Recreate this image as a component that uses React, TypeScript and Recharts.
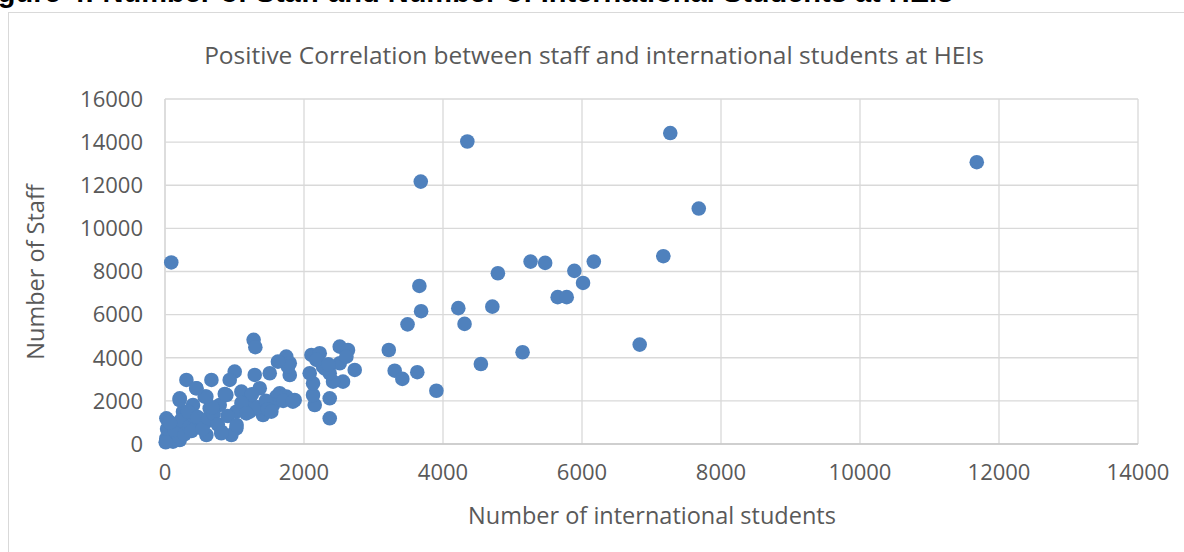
import { ScatterChart, Scatter, XAxis, YAxis, CartesianGrid } from "recharts";

// international students (x) vs number of staff (y)
const students = [
  90, 4350, 3680, 7270, 7680, 7170, 11680, 6830, 5260, 5470, 6170, 5890, 6015, 5650, 5780,
  4790, 3660, 3685, 4220, 4310, 4710, 3490, 3220, 3305, 3415, 3630, 3905, 4545, 5145,
  2730, 2514, 2633, 2561, 2418, 2370, 2370, 2154, 2130, 2130, 2082, 2370, 2107, 2226, 2274,
  2514, 2610, 2300, 2180, 2350, 1745, 1795, 1795, 1770, 1747, 1866, 1650, 1275, 1300,
  308, 668, 1003, 931, 1291, 1507, 1625, 452, 212, 571, 883, 1099, 1219, 1363, 1603,
  20, 259, 403, 643, 787, 1027, 1219, 1410, 1554, 164, 452, 596, 308, 596, 812, 1027, 955,
  20, 115, 212, 40, 80, 180, 60, 120, 150, 30, 250, 10, 100, 200, 50, 140, 230, 70, 280,
  350, 420, 500, 380, 330, 470, 540, 620, 700, 760, 680, 900, 1150, 1250, 1330, 1450, 1100,
  1480, 1530, 1700, 1840, 1170, 1030, 810, 860, 595, 450, 210,
];
const staff = [
  8420, 14030, 12170, 14420, 10920, 8710, 13070, 4610, 8460, 8400, 8460, 8030, 7470, 6810, 6810,
  7920, 7330, 6160, 6300, 5570, 6370, 5550, 4360, 3400, 3020, 3330, 2470, 3710, 4255,
  3434, 4515, 4360, 2891, 2891, 2120, 1192, 1810, 2274, 2816, 3280, 3280, 4130, 4208, 3587,
  3745, 4050, 3500, 3900, 3700, 4050, 3745, 3200, 3587, 2195, 2042, 2352, 4830, 4490,
  2970, 2970, 3355, 2970, 3202, 3280, 3820, 2584, 2120, 2195, 2274, 2427, 2120, 2584, 2195,
  1192, 1499, 1810, 1656, 1810, 1499, 1499, 1346, 1810, 882, 882, 1035, 571, 418, 571, 728, 418,
  264, 107, 186, 150, 300, 250, 500, 400, 180, 700, 600, 80, 900, 350, 1050, 650, 1100, 1000, 450,
  800, 1300, 1000, 600, 1500, 1250, 700, 1200, 1400, 900, 1700, 1300, 1900, 2300, 1700, 2000, 1900,
  1600, 1500, 2000, 1965, 1420, 880, 500, 2320, 2195, 2585, 2040,
];

const xTicks = [0, 2000, 4000, 6000, 8000, 10000, 12000, 14000];
const yTicks = [0, 2000, 4000, 6000, 8000, 10000, 12000, 14000, 16000];

const data = students.map((x, i) => ({ x, y: staff[i] }));

const textColor = "#595959";
const font = "'Open Sans', sans-serif";

const Dot = (props: any) => (
  <circle cx={props.cx} cy={props.cy} r={7.3} fill="#4F81BD" />
);

export default function App() {
  return (
    <div
      style={{
        position: "absolute",
        left: 0,
        top: 0,
        width: 1184,
        height: 552,
        overflow: "hidden",
        background: "#fff",
        fontFamily: font,
      }}
    >
      {/* figure caption, mostly cropped off the top of the picture */}
      <div
        style={{
          position: "absolute",
          left: -28,
          top: -22,
          fontFamily: "'Liberation Sans', Arial, sans-serif",
          fontWeight: "bold",
          fontSize: 29,
          lineHeight: 1,
          whiteSpace: "nowrap",
          color: "#000",
        }}
      >
        Figure 4: Number of Staff and Number of International Students at HEIs
      </div>
      <div
        style={{
          position: "absolute",
          left: 8,
          top: 12,
          width: 1300,
          height: 700,
          borderLeft: "1px solid #d9d9d9",
          borderTop: "1px solid #d9d9d9",
        }}
      />
      <div
        style={{
          position: "absolute",
          left: 0,
          width: 1188,
          top: 38,
          textAlign: "center",
          fontSize: 24.5,
          color: textColor,
          whiteSpace: "nowrap",
        }}
      >
        Positive Correlation between staff and international students at HEIs
      </div>
      <div style={{ position: "absolute", left: 0, top: 0 }}>
        <ScatterChart
          width={1184}
          height={552}
          margin={{ top: 99, right: 46, bottom: 0, left: 0 }}
        >
          <CartesianGrid stroke="#d9d9d9" strokeWidth={1.3} />
          <XAxis
            type="number"
            dataKey="x"
            domain={[0, 14000]}
            ticks={xTicks}
            interval={0}
            height={108}
            tickLine={false}
            axisLine={{ stroke: "#c8c8c8", strokeWidth: 1.3 }}
            tickMargin={14}
            tick={{ fill: textColor, fontSize: 22, fontFamily: font }}
          />
          <YAxis
            type="number"
            dataKey="y"
            domain={[0, 16000]}
            ticks={yTicks}
            interval={0}
            width={165}
            tickLine={false}
            axisLine={{ stroke: "#d9d9d9", strokeWidth: 1.3 }}
            tickMargin={16}
            tick={{ fill: textColor, fontSize: 22, fontFamily: font }}
          />
          <Scatter data={data} shape={Dot} isAnimationActive={false} />
        </ScatterChart>
      </div>
      <div
        style={{
          position: "absolute",
          left: 166,
          width: 972,
          top: 499,
          textAlign: "center",
          fontSize: 23.5,
          color: textColor,
          whiteSpace: "nowrap",
        }}
      >
        Number of international students
      </div>
      <div
        style={{
          position: "absolute",
          left: 35,
          top: 272,
          transform: "translate(-50%, -50%) rotate(-90deg)",
          fontSize: 23.5,
          color: textColor,
          whiteSpace: "nowrap",
        }}
      >
        Number of Staff
      </div>
    </div>
  );
}
